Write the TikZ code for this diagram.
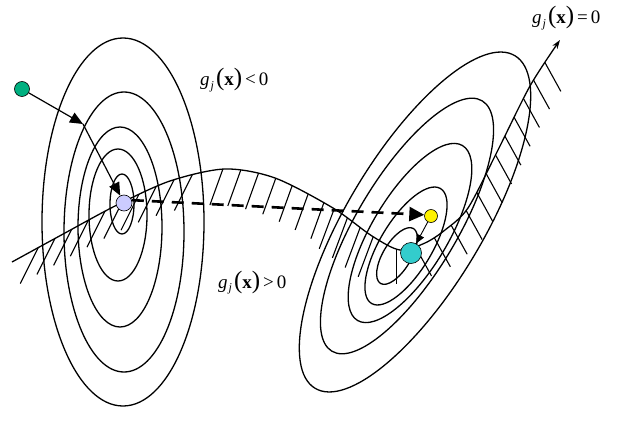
\documentclass[tikz,border=0pt]{standalone}
\usepackage{fontspec}
\setmainfont{Liberation Serif}
\usetikzlibrary{arrows.meta,decorations.markings}
\definecolor{dgreen}{RGB}{0,176,128}
\definecolor{lpurple}{RGB}{204,204,255}
\definecolor{tealc}{RGB}{51,204,204}
\newcommand\gjlabel[1]{{\itshape g}\kern1pt\raisebox{-0.45ex}{\fontsize{12}{12}\selectfont\itshape j}\kern2pt{\fontsize{25}{25}\selectfont(}\textbf{x}{\fontsize{25}{25}\selectfont)}\kern3pt#1\kern3pt0}
\begin{document}
\begin{tikzpicture}[x=1pt,y=-1pt,
  contour/.style={line width=1.3pt},
  hatchline/.style={line width=1.1pt,-},
  dot/.style={circle,draw=black,line width=0.6pt,inner sep=0pt},
  lbl/.style={anchor=base west,inner sep=0pt,font=\fontsize{19}{21}\selectfont},
  bigarrow/.style={line width=1.2pt,-{Triangle[length=13pt,width=11pt]}},
]
\useasboundingbox (0,0) rectangle (624,433);
% left family
\draw[contour] (122,204) ellipse [x radius=12pt, y radius=30pt];
\draw[contour] (118,215) ellipse [x radius=29pt, y radius=66pt];
\draw[contour] (120,227) ellipse [x radius=42pt, y radius=100pt];
\draw[contour] (124,232) ellipse [x radius=60pt, y radius=140pt];
\draw[contour] (123,222) ellipse [x radius=81pt, y radius=184pt];
% right family
\draw[contour, rotate around={59:(397,256)}] (397,256) ellipse [x radius=32pt, y radius=14pt];
\draw[contour, rotate around={59:(406,246)}] (406,246) ellipse [x radius=67pt, y radius=26pt];
\draw[contour, rotate around={59:(410,233)}] (410,233) ellipse [x radius=102pt, y radius=38pt];
\draw[contour, rotate around={59:(407,226)}] (407,226) ellipse [x radius=146pt, y radius=50pt];
\draw[contour, rotate around={59:(415,222)}] (415,222) ellipse [x radius=194pt, y radius=68pt];
% constraint curve with hatching
\draw[contour, -{Stealth[length=9pt,width=6pt]},
  postaction={decorate, decoration={markings,
    mark=between positions 30pt and 214pt step 19pt with {\pgftransformresetnontranslations \draw[hatchline] (0,0) -- (-18,36);},
    mark=between positions 232pt and 340pt step 18pt with {\pgftransformresetnontranslations \draw[hatchline] (0,0) -- (-13,36);},
    mark=between positions 352pt and 400pt step 16pt with {\pgftransformresetnontranslations \draw[hatchline] (0,0) -- (-15,40);},
    mark=at position 426pt with {\pgftransformresetnontranslations \draw[hatchline] (0,0) -- (0,35);},
    mark=between positions 446pt and 690pt step 21pt with {\pgftransformresetnontranslations \draw[hatchline] (0,0) -- (16,29);}
  }}]
  plot[smooth] coordinates {(12,262) (65,233) (117,205) (170,181) (225,169) (275,178) (333,208) (372,236) (400,250) (425,243) (445,230) (468,208) (497,152) (530,86) (560,40)};
% points
\node[dot,fill=dgreen,minimum size=15pt] (g0) at (22,89) {};
\node[dot,fill=lpurple,minimum size=16pt] (p0) at (124,203) {};
\node[dot,fill=yellow,minimum size=13pt] (y0) at (431,216) {};
\node[dot,fill=tealc,minimum size=21pt] (t0) at (411,253) {};
\coordinate (k1) at (83,124);
\draw[bigarrow] (g0) -- (k1);
\draw[bigarrow] (k1) -- (p0);
\draw[line width=2.6pt, dash pattern=on 12pt off 8pt, -{Triangle[length=15pt,width=14pt]}] (p0.20) -- (y0.170);
\draw[line width=0.9pt, -{Triangle[length=9pt,width=8pt]}] (y0) -- (t0);
% labels
\node[lbl] (l1) at (200,86) {\gjlabel{<}};
\node[lbl] (l2) at (218,288) {\gjlabel{>}};
\node[lbl] (l3) at (532,24) {\gjlabel{=}};
\end{tikzpicture}
\end{document}
